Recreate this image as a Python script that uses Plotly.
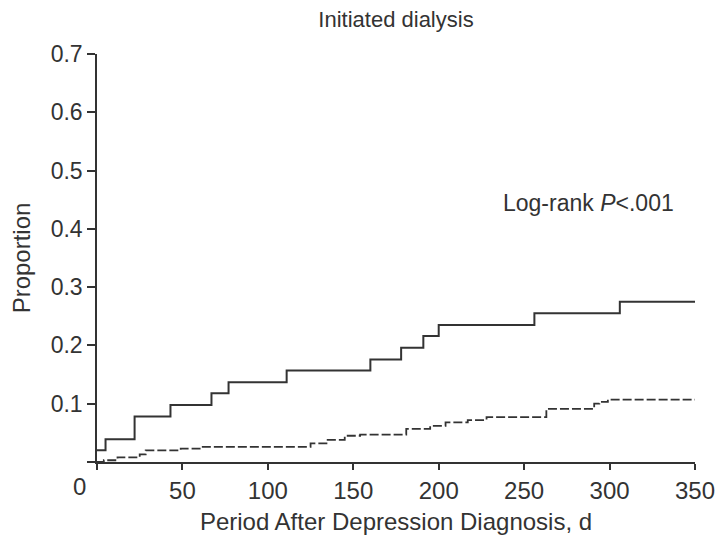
import plotly.graph_objects as go

# Cumulative proportion initiating dialysis (step curves)
solid_days = [0, 5, 22, 43, 67, 77, 111, 160, 178, 191, 200, 256, 306, 350]
solid_prop = [0.020, 0.039, 0.078, 0.098, 0.118, 0.137, 0.157, 0.176, 0.196,
              0.216, 0.235, 0.255, 0.275, 0.275]

dashed_days = [0, 4, 12, 25, 28.5, 49, 61, 125, 135, 145, 154, 181, 195, 204,
               217, 228, 263, 291, 294, 299, 350]
dashed_prop = [0, 0.003, 0.008, 0.013, 0.020, 0.023, 0.026, 0.032, 0.038, 0.045,
               0.047, 0.057, 0.062, 0.068, 0.072, 0.077, 0.091, 0.100, 0.103,
               0.107, 0.107]

x_ticks = [0, 50, 100, 150, 200, 250, 300, 350]
y_ticks = [0, 0.1, 0.2, 0.3, 0.4, 0.5, 0.6, 0.7]
y_labels = ["", "0.1", "0.2", "0.3", "0.4", "0.5", "0.6", "0.7"]
x_labels = [""] + [str(v) for v in x_ticks[1:]]

INK = "#333333"
FONT = "Liberation Sans, Arial, sans-serif"

fig = go.Figure()
fig.add_trace(go.Scatter(
    x=solid_days, y=solid_prop, mode="lines",
    line=dict(shape="hv", color=INK, width=2),
    showlegend=False, hoverinfo="skip"))
fig.add_trace(go.Scatter(
    x=dashed_days, y=dashed_prop, mode="lines",
    line=dict(shape="hv", color=INK, width=1.8, dash="9px,3px"),
    showlegend=False, hoverinfo="skip"))

fig.update_layout(
    width=727, height=543, autosize=False,
    margin=dict(l=97, r=21, t=54, b=72, pad=0),
    paper_bgcolor="white", plot_bgcolor="white",
    font=dict(family=FONT, color=INK, size=24),
    title=dict(text="Initiated dialysis", x=0.5, xref="paper",
               y=1 - 19 / 543, yref="container", yanchor="middle",
               xanchor="center", font=dict(size=22, color=INK)),
)

fig.update_xaxes(
    range=[0, 350], tickvals=x_ticks, ticktext=x_labels,
    showgrid=False, zeroline=False, showline=True, linecolor=INK, linewidth=1.5,
    ticks="outside", ticklen=6, tickwidth=1.5, tickcolor=INK,
    tickfont=dict(size=24, color=INK),
    title=dict(text="Period After Depression Diagnosis, d", standoff=11,
               font=dict(size=24, color=INK)),
)
fig.update_yaxes(
    range=[0, 0.7], tickvals=y_ticks, ticktext=y_labels,
    showgrid=False, zeroline=False, showline=True, linecolor=INK, linewidth=1.5,
    ticks="outside", ticklen=8, tickwidth=1.5, tickcolor=INK,
    tickfont=dict(size=23, color=INK),
    title=dict(text="Proportion", standoff=13, font=dict(size=24, color=INK)),
)

# Origin label sits in the corner, left of the axis
fig.add_annotation(x=0, y=0, xref="x", yref="y", text="0", showarrow=False,
                   xshift=-18, yshift=-24, font=dict(size=24, color=INK))

fig.add_annotation(x=(508 - 97) / (706 - 97), y=(471 - 206) / (471 - 54),
                   xref="paper", yref="paper", text="Log-rank <i>P</i><.001",
                   showarrow=False, font=dict(size=23, color=INK),
                   xanchor="left", yanchor="middle")

fig.write_html("out.html")
